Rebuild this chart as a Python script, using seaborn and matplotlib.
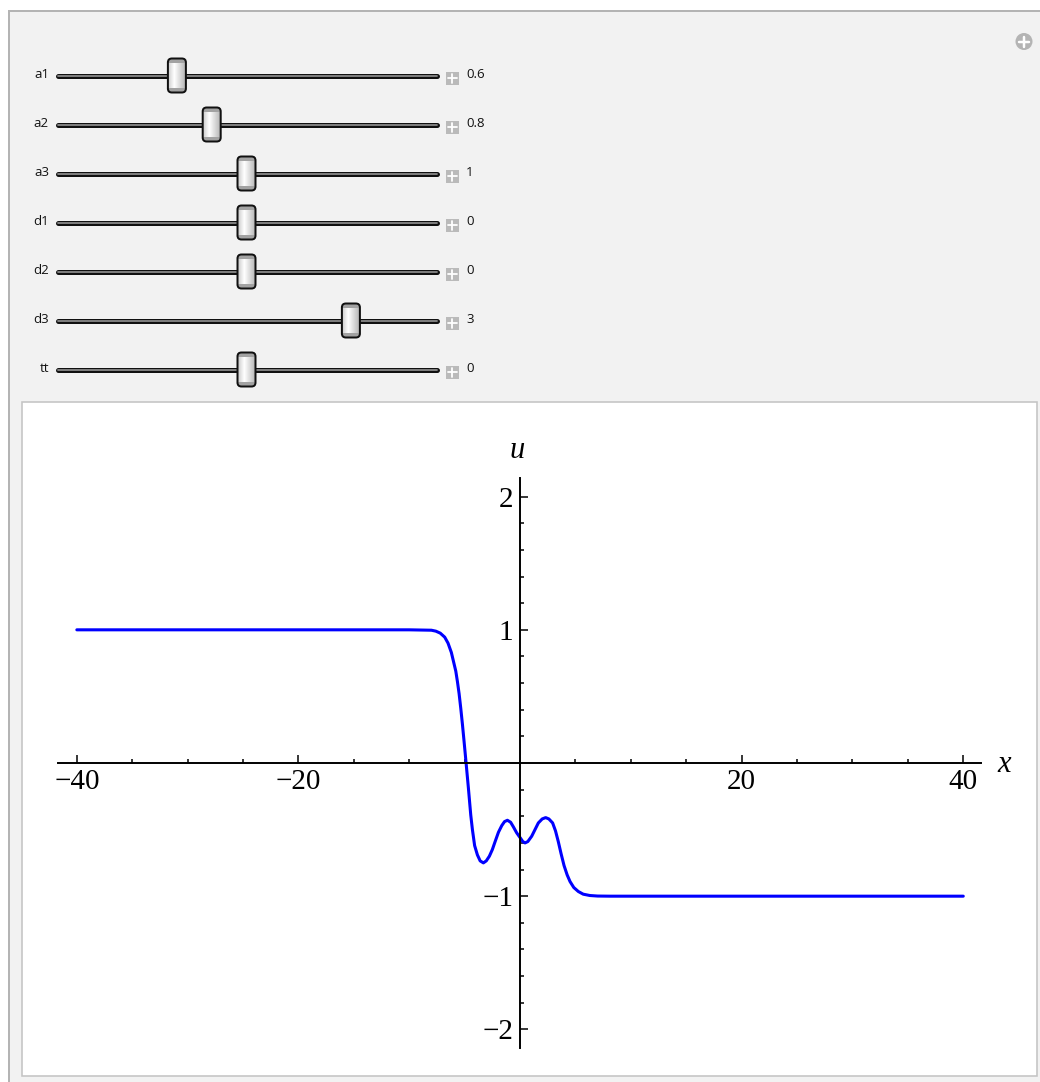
import numpy as np
import matplotlib
matplotlib.use("Agg")
import matplotlib.pyplot as plt
from matplotlib.patches import Rectangle, FancyBboxPatch, Circle
import seaborn as sns

# ---- curve values ----
x_vals = [-40, -10, -8, -7.6, -7.2, -6.8, -6.5, -6.2, -6.0, -5.8, -5.65, -5.5, -5.35,
          -5.2, -5.05, -4.87, -4.66, -4.45, -4.3, -4.1, -3.85, -3.6, -3.31, -3.05,
          -2.77, -2.5, -2.25, -1.95, -1.65, -1.4, -1.14, -0.85, -0.6, -0.3, 0, 0.25,
          0.45, 0.7, 1.05, 1.35, 1.65, 2.0, 2.31, 2.6, 2.94, 3.2, 3.45, 3.7, 3.97,
          4.25, 4.51, 4.85, 5.26, 5.7, 6.3, 7.0, 8.1, 40]
u_vals = [1, 1, 0.997, 0.99, 0.975, 0.945, 0.9, 0.83, 0.76, 0.69, 0.61, 0.52, 0.41,
          0.29, 0.16, 0, -0.19, -0.39, -0.5, -0.62, -0.69, -0.735, -0.75, -0.735,
          -0.7, -0.65, -0.59, -0.52, -0.47, -0.44, -0.43, -0.445, -0.48, -0.525, -0.56,
          -0.59, -0.6, -0.59, -0.55, -0.5, -0.45, -0.42, -0.41, -0.42, -0.45, -0.51,
          -0.59, -0.68, -0.77, -0.84, -0.89, -0.935, -0.965, -0.985, -0.995, -0.999, -1.0, -1]

x_major = [-40, -20, 20, 40]
x_minor = [-35, -30, -25, -15, -10, -5, 5, 10, 15, 25, 30, 35]
y_major = [-2, -1, 1, 2]
y_minor = [-1.8, -1.6, -1.4, -1.2, -0.8, -0.6, -0.4, -0.2,
           0.2, 0.4, 0.6, 0.8, 1.2, 1.4, 1.6, 1.8]

# ---- slider controls ----
slider_names = ["a1", "a2", "a3", "d1", "d2", "d3", "tt"]
slider_values = [0.6, 0.8, 1, 0, 0, 3, 0]
slider_min = [0, 0, 0, -5, -5, -5, -5]
slider_max = [2, 2, 2, 5, 5, 5, 5]

sns.set_style("white")
plt.rcParams["font.family"] = ["Open Sans", "DejaVu Sans"]
plt.rcParams["text.color"] = "black"

W, H = 1040, 1082
fig = plt.figure(figsize=(W / 100, H / 100), dpi=100)
fig.patch.set_facecolor("white")
px = 0.72  # points per pixel

# ===============================
# 1. Panel chrome (pixel coordinates)
# ===============================
ui = fig.add_axes([0, 0, 1, 1], zorder=0)
ui.set_xlim(0, W)
ui.set_ylim(H, 0)
ui.axis("off")

ui.add_patch(Rectangle((9, 11), W, H, facecolor="#f2f2f2", edgecolor="#b4b4b4", lw=2 * px))
ui.add_patch(Rectangle((22, 401.5), 1015, 674.5, facecolor="white", edgecolor="#c4c4c4", lw=1.6 * px))

# circled plus, top right
ui.add_patch(Circle((1024, 41.5), 8.5, facecolor="#b4b4b4", edgecolor="none"))
ui.plot([1019, 1029], [41.5, 41.5], color="white", lw=2.5 * px)
ui.plot([1024, 1024], [36.5, 46.5], color="white", lw=2.5 * px)

track_x0, track_x1 = 58, 437
travel_x0, travel_x1 = 72.5, 420.5
grad = np.interp(np.linspace(0, 1, 60), [0, 0.35, 1], [0.80, 1.0, 0.70])[None, :]

for i, name in enumerate(slider_names):
    y = 75.5 + 49 * i
    ui.text(49, y - 1, name, ha="right", va="center", fontsize=9.5, color="#111111")
    ui.plot([track_x0, track_x1], [y, y], color="#111111", lw=5 * px, solid_capstyle="round")
    ui.plot([track_x0, track_x1], [y, y], color="#8a8a8a", lw=1.8 * px, solid_capstyle="round")

    frac = (slider_values[i] - slider_min[i]) / (slider_max[i] - slider_min[i])
    cx = travel_x0 + frac * (travel_x1 - travel_x0)
    tw, th = 18, 34
    thumb = FancyBboxPatch((cx - tw / 2, y - th / 2), tw, th,
                           boxstyle="round,pad=0,rounding_size=4",
                           facecolor="none", edgecolor="#111111", lw=2 * px, zorder=5)
    ui.add_patch(thumb)
    im = ui.imshow(grad, cmap="gray", vmin=0, vmax=1, aspect="auto",
                   extent=[cx - tw / 2, cx + tw / 2, y + th / 2, y - th / 2], zorder=3)
    im.set_clip_path(thumb)
    for cy in (y - th / 2, y + th / 2 - 4.5):
        cap = Rectangle((cx - tw / 2, cy), tw, 4.5, facecolor="#a2a2a2", edgecolor="none", zorder=4)
        ui.add_patch(cap)
        cap.set_clip_path(thumb)

    # little plus box and value
    ui.add_patch(Rectangle((445.5, y - 4), 13, 13, facecolor="#bababa", edgecolor="none"))
    ui.plot([447.5, 456.5], [y + 2.5, y + 2.5], color="white", lw=1.8 * px)
    ui.plot([452, 452], [y - 2, y + 7], color="white", lw=1.8 * px)
    ui.text(466, y - 1, f"{slider_values[i]:g}", ha="left", va="center", fontsize=9.5, color="#111111")

ui.set_xlim(0, W)
ui.set_ylim(H, 0)

# ===============================
# 2. The plot
# ===============================
left, right, top, bottom = 58, 981, 478, 1048
ax = fig.add_axes([left / W, 1 - bottom / H, (right - left) / W, (bottom - top) / H], zorder=1)
ax.patch.set_alpha(0)

sns.lineplot(x=x_vals, y=u_vals, ax=ax, color="#0000ff", linewidth=2.2, sort=False)

ax.set_xlim(-41.7, 41.6)
ax.set_ylim(-2.14, 2.14)
for side in ("top", "right"):
    ax.spines[side].set_visible(False)
for side in ("left", "bottom"):
    ax.spines[side].set_position(("data", 0))
    ax.spines[side].set_color("black")
    ax.spines[side].set_linewidth(1.4)

ax.set_xticks(x_major)
ax.set_xticks(x_minor, minor=True)
ax.set_yticks(y_major)
ax.set_yticks(y_minor, minor=True)
ax.tick_params(which="both", direction="in", color="black", width=1.1,
               bottom=True, left=True, labelcolor="black",
               labelsize=21, labelfontfamily="Liberation Serif")
ax.tick_params(which="major", length=5.5)
ax.tick_params(which="minor", length=3)
ax.tick_params(axis="x", pad=4)
ax.tick_params(axis="y", pad=5)

ax.set_xlabel("x", fontsize=22, family="Liberation Serif", style="italic", ha="center",
              va="center", color="black")
ax.set_ylabel("u", fontsize=22, family="Liberation Serif", style="italic", rotation=0,
              ha="center", va="center", color="black")
ax.xaxis.set_label_coords((1004 - left) / (right - left), (bottom - 765) / (bottom - top))
ax.yaxis.set_label_coords((517 - left) / (right - left), (bottom - 450) / (bottom - top))

fig.savefig("out.png", dpi=100)
